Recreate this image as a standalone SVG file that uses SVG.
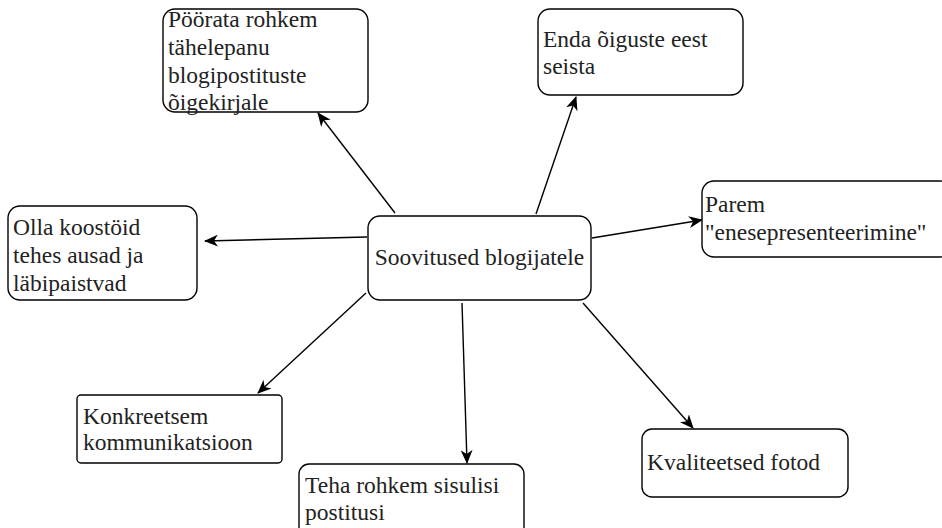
<svg xmlns="http://www.w3.org/2000/svg" width="942" height="528" viewBox="0 0 942 528">
<defs>
<style>
.box{fill:#fff;stroke:#000;stroke-width:1.4}
.t{font-family:"Liberation Serif","Times New Roman",serif;font-size:23.5px;fill:#222}
.c{fill:none;stroke:#000;stroke-width:1.4}
</style>
<marker id="ah" markerUnits="userSpaceOnUse" markerWidth="14" markerHeight="12" viewBox="0 0 14 12" refX="13" refY="6" orient="auto">
<path d="M0,0 L14,6 L0,12 L4,6 z" fill="#000"/>
</marker>
</defs>
<rect width="942" height="528" fill="#fff"/>
<g id="connectors">
<line class="c" x1="395" y1="213" x2="318" y2="113" marker-end="url(#ah)"/>
<line class="c" x1="536" y1="214" x2="576" y2="97" marker-end="url(#ah)"/>
<line class="c" x1="367" y1="237" x2="205" y2="241" marker-end="url(#ah)"/>
<line class="c" x1="592" y1="238" x2="702" y2="220" marker-end="url(#ah)"/>
<line class="c" x1="462" y1="303" x2="467" y2="463" marker-end="url(#ah)"/>
<line class="c" x1="366" y1="293" x2="258" y2="393" marker-end="url(#ah)"/>
<line class="c" x1="583" y1="303" x2="693" y2="428" marker-end="url(#ah)"/>
</g>
<g id="node-center">
<rect class="box" x="368" y="216" width="223" height="84" rx="12"/>
<text class="t" x="479.5" y="265" text-anchor="middle">Soovitused blogijatele</text>
</g>
<g id="node-poorata">
<rect class="box" x="163" y="9" width="205" height="103" rx="12"/>
<text class="t" x="168" y="27">Pöörata rohkem</text>
<text class="t" x="168" y="55">tähelepanu</text>
<text class="t" x="168" y="83">blogipostituste</text>
<text class="t" x="168" y="110">õigekirjale</text>
</g>
<g id="node-enda">
<rect class="box" x="538" y="9" width="205" height="86" rx="12"/>
<text class="t" x="543" y="47">Enda õiguste eest</text>
<text class="t" x="543" y="74">seista</text>
</g>
<g id="node-olla">
<rect class="box" x="8" y="206" width="189" height="94" rx="12"/>
<text class="t" x="13" y="235">Olla koostöid</text>
<text class="t" x="13" y="263">tehes ausad ja</text>
<text class="t" x="13" y="291">läbipaistvad</text>
</g>
<g id="node-parem">
<rect class="box" x="702" y="181" width="250" height="76" rx="12"/>
<text class="t" x="705" y="212">Parem</text>
<text class="t" x="705" y="240">"enesepresenteerimine"</text>
</g>
<g id="node-konkreetsem">
<rect class="box" x="77" y="395" width="205" height="68" rx="4"/>
<text class="t" x="83" y="424">Konkreetsem</text>
<text class="t" x="83" y="450">kommunikatsioon</text>
</g>
<g id="node-teha">
<rect class="box" x="299" y="464" width="225" height="80" rx="10"/>
<text class="t" x="305" y="493">Teha rohkem sisulisi</text>
<text class="t" x="305" y="520">postitusi</text>
</g>
<g id="node-kvaliteetsed">
<rect class="box" x="642" y="429" width="206" height="68" rx="10"/>
<text class="t" x="647" y="470">Kvaliteetsed fotod</text>
</g>
</svg>
